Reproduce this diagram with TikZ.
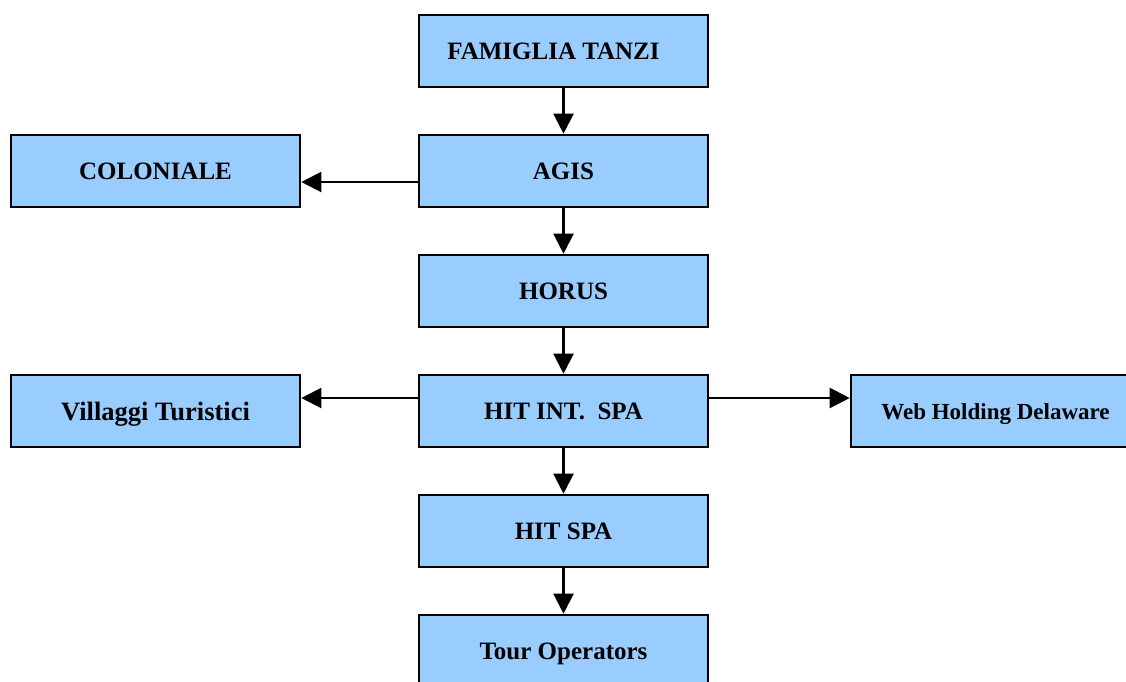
\documentclass[tikz,border=0pt]{standalone}
\usepackage{fontspec}
\setmainfont{Liberation Serif}
\usetikzlibrary{arrows.meta}
\definecolor{boxblue}{RGB}{153,204,255}
\newcommand{\lowered}[1]{\raisebox{-3pt}[\height][\depth]{#1}}
\tikzset{
  orgbox/.style={draw=black, line width=2.6pt, fill=boxblue, rectangle,
    minimum width=289pt, minimum height=72pt, inner sep=0pt,
    font=\fontsize{25}{30}\selectfont\bfseries},
  conn/.style={line width=2.2pt, -{Triangle[length=20pt,width=20pt]}}
}
\begin{document}
\begin{tikzpicture}[x=1pt,y=-1pt]
\useasboundingbox (0,0) rectangle (1126,682);
\clip (0,0) rectangle (1126,682);
\node[orgbox] (tanzi) at (563.5,51) {\hbox{FAMIGLIA TANZI\kern20pt}};
\node[orgbox] (agis) at (563.5,171) {AGIS};
\node[orgbox] (coloniale) at (155.5,171) {COLONIALE};
\node[orgbox] (horus) at (563.5,291) {HORUS};
\node[orgbox] (hitint) at (563.5,411) {HIT INT.\ \ SPA};
\node[orgbox, font=\fontsize{26.5}{30}\selectfont\bfseries] (villaggi) at (155.5,411) {\lowered{Villaggi Turistici}};
\node[orgbox, font=\fontsize{23}{28}\selectfont\bfseries] (web) at (995.5,411) {\lowered{Web Holding Delaware}};
\node[orgbox] (hitspa) at (563.5,531) {HIT SPA};
\node[orgbox] (tour) at (563.5,651) {\lowered{Tour Operators}};
\draw[conn] (tanzi) -- (agis);
\draw[conn] ([yshift=-11pt]agis.west) -- ([yshift=-11pt]coloniale.east);
\draw[conn] (agis) -- (horus);
\draw[conn] (horus) -- (hitint);
\draw[conn] ([yshift=13pt]hitint.west) -- ([yshift=13pt]villaggi.east);
\draw[conn] ([yshift=13pt]hitint.east) -- ([yshift=13pt]web.west);
\draw[conn] (hitint) -- (hitspa);
\draw[conn] (hitspa) -- (tour);
\end{tikzpicture}
\end{document}
